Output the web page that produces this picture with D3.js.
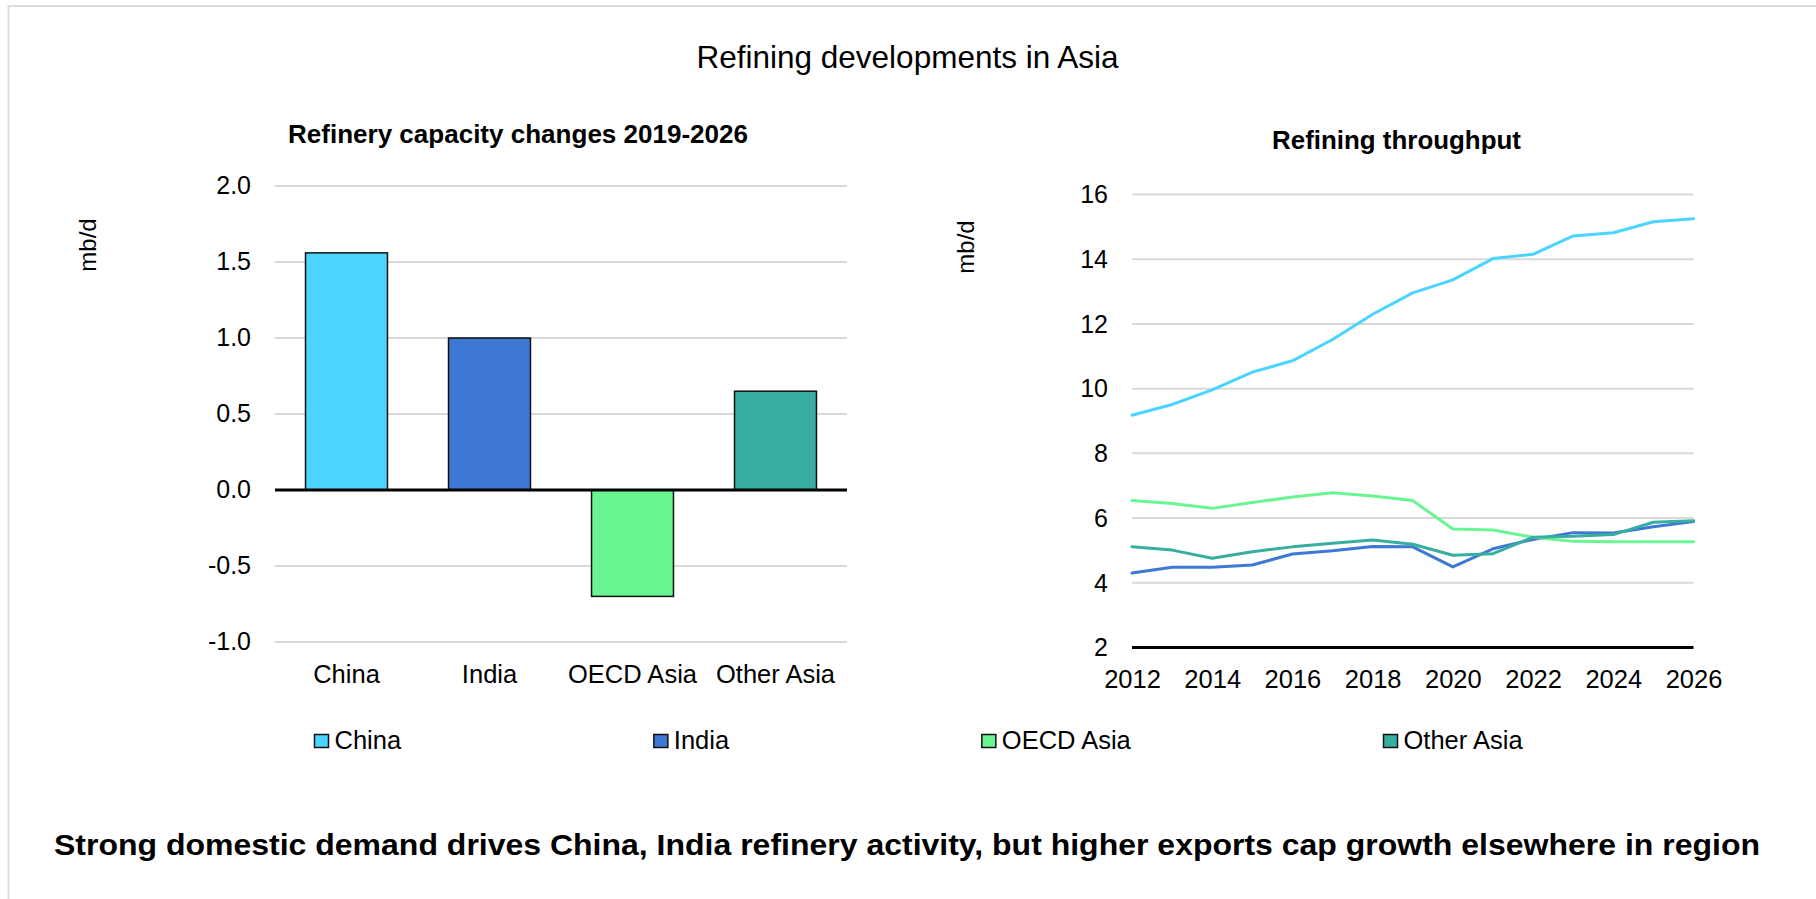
<!DOCTYPE html>
<html>
<head>
<meta charset="utf-8">
<script src="https://cdn.jsdelivr.net/npm/d3@7"></script>
<style>
  html, body { margin: 0; padding: 0; background: #ffffff; }
  svg { display: block; }
  text { font-family: Arial, "Liberation Sans", sans-serif; fill: #000; }
</style>
</head>
<body>
<svg id="chart" width="1816" height="899"></svg>
<script>
// ---------- DATA ----------
const categories = ["China", "India", "OECD Asia", "Other Asia"];
const capacityChange = [1.56, 1.0, -0.70, 0.65];
const capacityTicks = [-1.0, -0.5, 0.0, 0.5, 1.0, 1.5, 2.0];

const years = [2012, 2013, 2014, 2015, 2016, 2017, 2018, 2019, 2020, 2021, 2022, 2023, 2024, 2025, 2026];
const chinaThroughput = [9.18, 9.51, 9.96, 10.51, 10.86, 11.52, 12.30, 12.96, 13.36, 14.02, 14.15, 14.72, 14.82, 15.16, 15.25];
const indiaThroughput = [4.30, 4.48, 4.48, 4.55, 4.89, 4.99, 5.12, 5.11, 4.49, 5.05, 5.34, 5.55, 5.54, 5.73, 5.89];
const oecdThroughput  = [6.54, 6.45, 6.30, 6.48, 6.65, 6.78, 6.68, 6.54, 5.66, 5.63, 5.41, 5.28, 5.27, 5.27, 5.27];
const otherThroughput = [5.11, 5.01, 4.76, 4.96, 5.11, 5.22, 5.32, 5.19, 4.85, 4.90, 5.41, 5.44, 5.49, 5.87, 5.92];
const throughputTicks = [2, 4, 6, 8, 10, 12, 14, 16];
const yearTicks = [2012, 2014, 2016, 2018, 2020, 2022, 2024, 2026];

const seriesNames = ["China", "India", "OECD Asia", "Other Asia"];
const mainTitle = "Refining developments in Asia";
const leftTitle = "Refinery capacity changes 2019-2026";
const rightTitle = "Refining throughput";
const unitLabel = "mb/d";
const footerText = "Strong domestic demand drives China, India refinery activity, but higher exports cap growth elsewhere in region";

// ---------- STYLE ----------
const colors = ["#4AD4FF", "#3D79D4", "#69F692", "#38AEA0"];
const gridColor = "#d9d9d9";

const svg = d3.select("#chart");

// frame (only top/left edges visible)
svg.append("rect")
  .attr("x", 8.5).attr("y", 6)
  .attr("width", 1830).attr("height", 910)
  .attr("fill", "none").attr("stroke", "#dcdcdc").attr("stroke-width", 2);

// main title
svg.append("text")
  .attr("x", 907.5).attr("y", 67.5)
  .attr("text-anchor", "middle")
  .style("font-size", "31.5px")
  .text(mainTitle);

// ================= LEFT: bar chart =================
const L = { left: 275, right: 847 };
const xBand = d3.scaleBand().domain(categories).range([L.left, L.right])
  .paddingInner(0.427).paddingOuter(0.2135);
const yCap = d3.scaleLinear().domain([-1, 2]).range([642, 186]);

svg.append("text")
  .attr("x", 518).attr("y", 142.5)
  .attr("text-anchor", "middle")
  .attr("textLength", 460).attr("lengthAdjust", "spacingAndGlyphs")
  .style("font-size", "25px").style("font-weight", "bold")
  .text(leftTitle);

// gridlines
svg.append("g").selectAll("line")
  .data(capacityTicks.filter(d => d !== 0))
  .join("line")
  .attr("x1", L.left).attr("x2", L.right)
  .attr("y1", d => yCap(d)).attr("y2", d => yCap(d))
  .attr("stroke", gridColor).attr("stroke-width", 2);

// y axis labels
const yAxisL = svg.append("g")
  .attr("transform", `translate(${L.left},0)`)
  .call(d3.axisLeft(yCap).tickValues(capacityTicks).tickSize(0).tickPadding(24)
    .tickFormat(d => d.toFixed(1)));
yAxisL.select(".domain").remove();
yAxisL.selectAll("text").style("font-size", "25px")
  .style("font-family", "Arial, 'Liberation Sans', sans-serif").attr("dy", "0.31em");

// bars
svg.append("g").selectAll("rect")
  .data(categories.map((c, i) => ({ c, v: capacityChange[i], col: colors[i] })))
  .join("rect")
  .attr("x", d => xBand(d.c))
  .attr("width", xBand.bandwidth())
  .attr("y", d => yCap(Math.max(0, d.v)))
  .attr("height", d => Math.abs(yCap(d.v) - yCap(0)))
  .attr("fill", d => d.col)
  .attr("stroke", "#111").attr("stroke-width", 1.5);

// zero line
svg.append("line")
  .attr("x1", L.left).attr("x2", L.right)
  .attr("y1", yCap(0)).attr("y2", yCap(0))
  .attr("stroke", "#000").attr("stroke-width", 3);

// category axis
const xAxisL = svg.append("g")
  .attr("transform", `translate(0,${yCap(-1)})`)
  .call(d3.axisBottom(xBand).tickSize(0).tickPadding(23));
xAxisL.select(".domain").remove();
xAxisL.selectAll("text").style("font-size", "25.5px")
  .style("font-family", "Arial, 'Liberation Sans', sans-serif");

// unit label
svg.append("text")
  .attr("transform", "translate(96,245) rotate(-90)")
  .attr("text-anchor", "middle")
  .style("font-size", "24px")
  .text(unitLabel);

// ================= RIGHT: line chart =================
const R = { left: 1132, right: 1693.5 };
const xYear = d3.scaleLinear().domain([2012, 2026]).range([R.left, R.right]);
const yThr = d3.scaleLinear().domain([2, 16]).range([647.5, 194.5]);

svg.append("text")
  .attr("x", 1396.5).attr("y", 148.5)
  .attr("text-anchor", "middle")
  .attr("textLength", 249).attr("lengthAdjust", "spacingAndGlyphs")
  .style("font-size", "25px").style("font-weight", "bold")
  .text(rightTitle);

svg.append("g").selectAll("line")
  .data(throughputTicks.filter(d => d !== 2))
  .join("line")
  .attr("x1", R.left).attr("x2", R.right)
  .attr("y1", d => yThr(d)).attr("y2", d => yThr(d))
  .attr("stroke", gridColor).attr("stroke-width", 2);

const yAxisR = svg.append("g")
  .attr("transform", `translate(${R.left},0)`)
  .call(d3.axisLeft(yThr).tickValues(throughputTicks).tickSize(0).tickPadding(24)
    .tickFormat(d3.format("d")));
yAxisR.select(".domain").remove();
yAxisR.selectAll("text").style("font-size", "25px")
  .style("font-family", "Arial, 'Liberation Sans', sans-serif").attr("dy", "0.33em");

const xAxisR = svg.append("g")
  .attr("transform", `translate(0,${yThr(2)})`)
  .call(d3.axisBottom(xYear).tickValues(yearTicks).tickSize(0).tickPadding(22)
    .tickFormat(d3.format("d")));
xAxisR.select(".domain").remove();
xAxisR.selectAll("text").style("font-size", "25.5px")
  .style("font-family", "Arial, 'Liberation Sans', sans-serif");

const lineGen = d3.line()
  .x((d, i) => xYear(years[i]))
  .y(d => yThr(d));

const seriesData = [chinaThroughput, indiaThroughput, oecdThroughput, otherThroughput];
svg.append("g").selectAll("path")
  .data(seriesData)
  .join("path")
  .attr("d", d => lineGen(d))
  .attr("fill", "none")
  .attr("stroke", (d, i) => colors[i])
  .attr("stroke-width", 3)
  .attr("stroke-linejoin", "round")
  .attr("stroke-linecap", "round");

// x axis line
svg.append("line")
  .attr("x1", R.left).attr("x2", R.right)
  .attr("y1", yThr(2)).attr("y2", yThr(2))
  .attr("stroke", "#000").attr("stroke-width", 3);

svg.append("text")
  .attr("transform", "translate(974,247) rotate(-90)")
  .attr("text-anchor", "middle")
  .style("font-size", "24px")
  .text(unitLabel);

// ================= LEGEND =================
const legend = svg.append("g");
let lx = 314.5;
seriesNames.forEach((name, i) => {
  legend.append("rect")
    .attr("x", lx).attr("y", 734.5)
    .attr("width", 14).attr("height", 13)
    .attr("fill", colors[i]).attr("stroke", "#111").attr("stroke-width", 1.5);
  const t = legend.append("text")
    .attr("x", lx + 20).attr("y", 748.5)
    .style("font-size", "25.5px")
    .text(name);
  lx = lx + 20 + t.node().getComputedTextLength() + 252.7;
});

// ================= FOOTER =================
svg.append("text")
  .attr("x", 907).attr("y", 855)
  .attr("text-anchor", "middle")
  .attr("textLength", 1706).attr("lengthAdjust", "spacingAndGlyphs")
  .style("font-size", "30px").style("font-weight", "bold")
  .text(footerText);
</script>
</body>
</html>
